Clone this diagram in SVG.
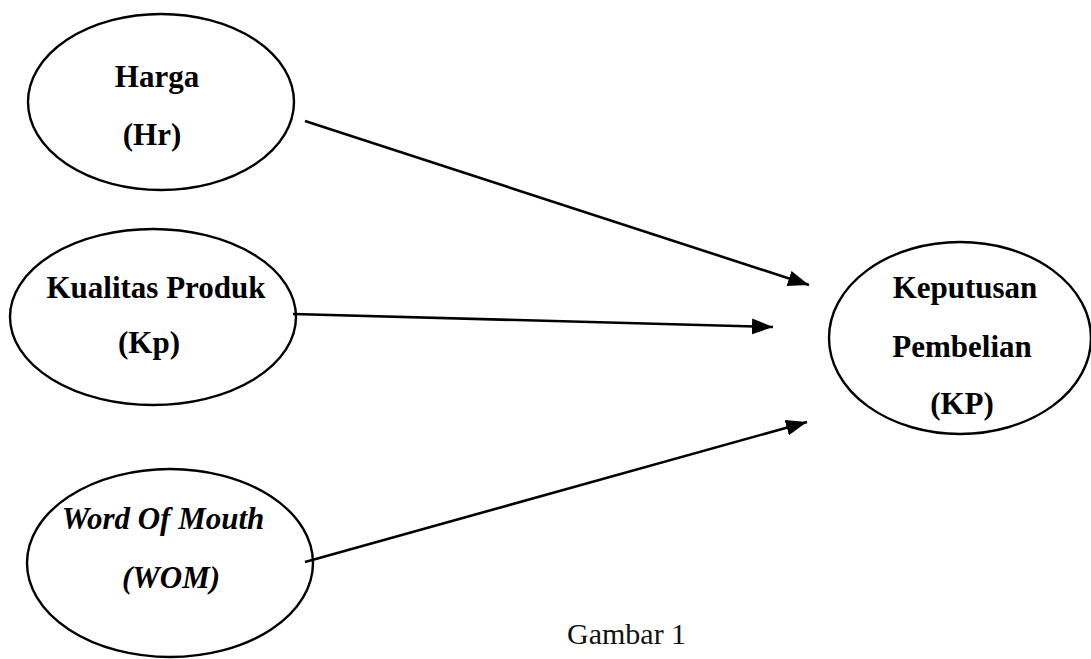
<svg xmlns="http://www.w3.org/2000/svg" width="1091" height="659" viewBox="0 0 1091 659">
<defs>
<style>
.node{fill:#fff;stroke:#000;stroke-width:2.4}
.lbl{font-family:"Liberation Serif","Times New Roman",serif;font-weight:bold;font-size:31px;fill:#000;text-anchor:middle}
.it{font-style:italic}
.edge{stroke:#000;stroke-width:2.6;fill:none;marker-end:url(#ah)}
.cap{font-family:"Liberation Serif","DejaVu Serif",serif;font-size:30px;fill:#111}
</style>
<marker id="ah" markerUnits="userSpaceOnUse" markerWidth="22" markerHeight="18" viewBox="0 0 22 18" refX="21" refY="9" orient="auto">
<path d="M0,1 L21,9 L0,17 z" fill="#000"/>
</marker>
</defs>
<rect width="1091" height="659" fill="#fff"/>
<g id="harga">
<ellipse class="node" cx="161" cy="102" rx="133" ry="88"/>
<text class="lbl" x="157" y="87">Harga</text>
<text class="lbl" x="152" y="145">(Hr)</text>
</g>
<g id="kualitas">
<ellipse class="node" cx="153" cy="317" rx="143" ry="88"/>
<text class="lbl" x="156" y="298">Kualitas Produk</text>
<text class="lbl" x="149" y="353">(Kp)</text>
</g>
<g id="wom">
<ellipse class="node" cx="170" cy="563" rx="143" ry="94"/>
<text class="lbl it" x="163" y="529">Word Of Mouth</text>
<text class="lbl it" x="171" y="588">(WOM)</text>
</g>
<g id="kp">
<ellipse class="node" cx="960" cy="338" rx="131" ry="96"/>
<text class="lbl" x="965" y="298">Keputusan</text>
<text class="lbl" x="962" y="357">Pembelian</text>
<text class="lbl" x="962" y="414">(KP)</text>
</g>
<g id="connectors">
<line class="edge" x1="305" y1="121" x2="809" y2="285"/>
<line class="edge" x1="293" y1="314" x2="773" y2="327"/>
<line class="edge" x1="305" y1="562" x2="807" y2="422"/>
</g>
<text class="cap" x="567" y="644">Gambar 1</text>
</svg>
